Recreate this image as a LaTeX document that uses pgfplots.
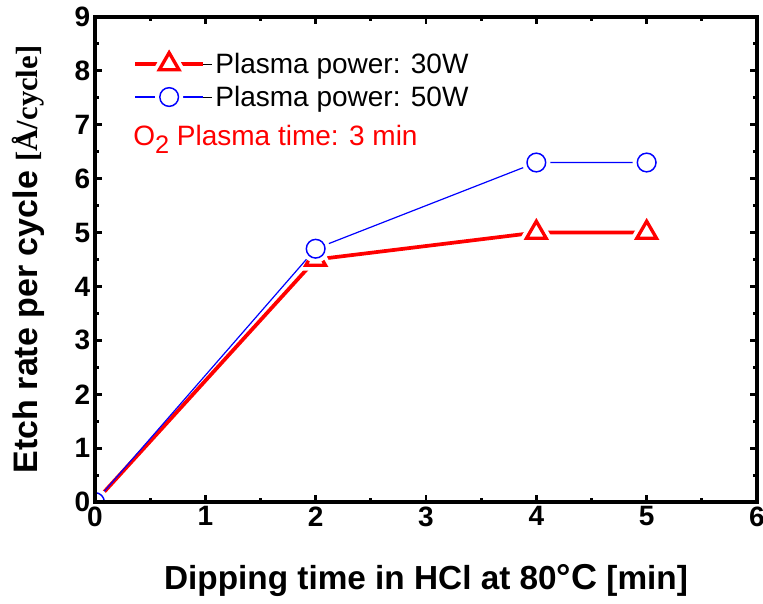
\documentclass[border=0pt]{standalone}
\usepackage{pgfplots}
\pgfplotsset{compat=1.18}
\usepackage{fontspec}
\setmainfont{Liberation Sans}
\newfontfamily\serifb{Liberation Serif}
\begin{document}
\begin{tikzpicture}
\path[use as bounding box] (-71.25pt,-75.75pt) rectangle (501pt,376.5pt);
\begin{axis}[
  at={(0pt,0pt)}, anchor=south west,
  scale only axis, width=496.5pt, height=363.75pt,
  xmin=0, xmax=6, ymin=0, ymax=9,
  xtick={0,1,2,3,4,5,6}, ytick={0,1,2,3,4,5,6,7,8,9},
  minor tick num=1,
  tick align=inside, xtick pos=both, ytick pos=both,
  major tick length=5.5pt, minor tick length=3pt,
  every tick/.style={black, line width=2.2pt},
  axis line style={line width=3pt},
  tick label style={font=\fontsize{21}{24}\selectfont\bfseries},
  /pgf/number format/assume math mode=true,
  clip marker paths=true,
  axis on top=true,
  xlabel={\fontsize{25}{28}\selectfont\bfseries Dipping time in HCl at 80{\fontsize{27}{28}\selectfont °C} [min]},
  xlabel style={at={(axis description cs:0.5,-0.1814)}, anchor=base},
  ylabel={\fontsize{25.5}{28}\selectfont\bfseries Etch rate per cycle {\serifb\fontsize{23}{24}\selectfont\bfseries [Å/cycle]}},
  ylabel style={at={(axis description cs:-0.1007,0.5)}, anchor=center},
  legend style={at={(axis description cs:0.0574,0.932)}, anchor=north west, draw=none, fill=none,
    font=\fontsize{21}{25}\selectfont, inner sep=0pt, row sep=4pt,
    /tikz/column 2/.style={column sep=0pt}},
  legend cell align=left,
]
% red series: line, halo, marks
\addplot[red, line width=2.8pt, forget plot] coordinates {(0,0)(2,4.5)(4,5)(5,5)};
\addplot[only marks, forget plot, mark=triangle*, mark size=8.5pt, mark options={draw=white, fill=white, line width=8pt}] coordinates {(0,0)(2,4.5)(4,5)(5,5)};
\addplot[only marks, forget plot, red, mark=triangle*, mark size=8.5pt, mark options={draw=red, fill=white, line width=2.5pt}] coordinates {(0,0)(2,4.5)(4,5)(5,5)};
% blue series
\addplot[blue, line width=0.9pt, forget plot] coordinates {(0,0)(2,4.7)(4,6.3)(5,6.3)};
\addplot[only marks, forget plot, mark=*, mark size=7pt, mark options={draw=white, fill=white, line width=7pt}] coordinates {(0,0)(2,4.7)(4,6.3)(5,6.3)};
\addplot[only marks, forget plot, blue, mark=*, mark size=7pt, mark options={draw=blue, fill=white, line width=1.1pt}] coordinates {(0,0)(2,4.7)(4,6.3)(5,6.3)};
\addlegendimage{legend image code/.code={%
  \draw[red, line width=2.8pt] (0pt,0pt) -- (51pt,0pt);
  \draw[white, mark=triangle*, mark size=8.5pt, mark options={draw=white, fill=white, line width=8pt}] plot coordinates {(25.5pt,0pt)};
  \draw[red, mark=triangle*, mark size=8.5pt, mark options={draw=red, fill=white, line width=2.5pt}] plot coordinates {(25.5pt,0pt)};
  \path (51pt,0pt) -- (58pt,0pt);
}}
\addlegendentry{Plasma power: 30W}
\addlegendimage{legend image code/.code={%
  \draw[blue, line width=0.9pt] (0pt,0pt) -- (51pt,0pt);
  \draw[white, mark=*, mark size=7pt, mark options={draw=white, fill=white, line width=7pt}] plot coordinates {(25.5pt,0pt)};
  \draw[blue, mark=*, mark size=7pt, mark options={draw=blue, fill=white, line width=1.1pt}] plot coordinates {(25.5pt,0pt)};
  \path (51pt,0pt) -- (58pt,0pt);
}}
\addlegendentry{Plasma power: 50W}
\node[anchor=base west, inner sep=0pt, text=red, font=\fontsize{21}{25}\selectfont] at (rel axis cs:0.0574,0.736) {O\raisebox{-0.3em}{\fontsize{19}{20}\selectfont 2} Plasma time: 3 min};
\end{axis}
\end{tikzpicture}
\end{document}
